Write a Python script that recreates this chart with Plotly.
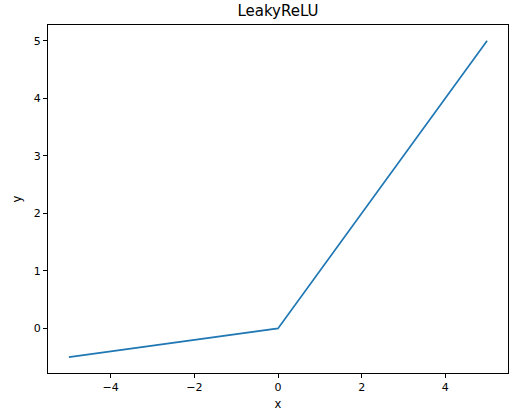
import plotly.graph_objects as go

x_vals = [-5, 0, 5]
y_vals = [-0.5, 0, 5]
x_ticks = [-4, -2, 0, 2, 4]
y_ticks = [0, 1, 2, 3, 4, 5]

fig = go.Figure()
fig.add_trace(go.Scatter(x=x_vals, y=y_vals, mode="lines",
                         line=dict(color="#1f77b4", width=1.7), showlegend=False))

font = "DejaVu Sans"
axis_common = dict(showline=True, linecolor="black", linewidth=0.9, mirror=True,
                   showgrid=False, zeroline=False, ticks="outside", ticklen=4,
                   tickwidth=0.9, tickcolor="black", automargin=False,
                   tickfont=dict(family=font, size=11, color="black"))
fig.update_layout(
    width=510, height=414,
    margin=dict(l=48, r=2, t=25, b=41, autoexpand=False),
    paper_bgcolor="white", plot_bgcolor="white",
    title=dict(text="LeakyReLU", x=0.5, xref="paper", y=1 - 11 / 414, yref="container",
               yanchor="middle", automargin=False,
               font=dict(family=font, size=15, color="black")),
    xaxis=dict(range=[-5.5, 5.5], tickvals=x_ticks,
               title=dict(text="x", font=dict(family=font, size=11.5, color="black"), standoff=6),
               **axis_common),
    yaxis=dict(range=[-0.775, 5.275], tickvals=y_ticks,
               title=dict(text="y", font=dict(family=font, size=11.5, color="black"), standoff=9),
               **axis_common),
)
fig.write_html("out.html", config={"displayModeBar": False},
               post_script="document.body.style.margin='0';document.body.style.overflow='hidden';")
